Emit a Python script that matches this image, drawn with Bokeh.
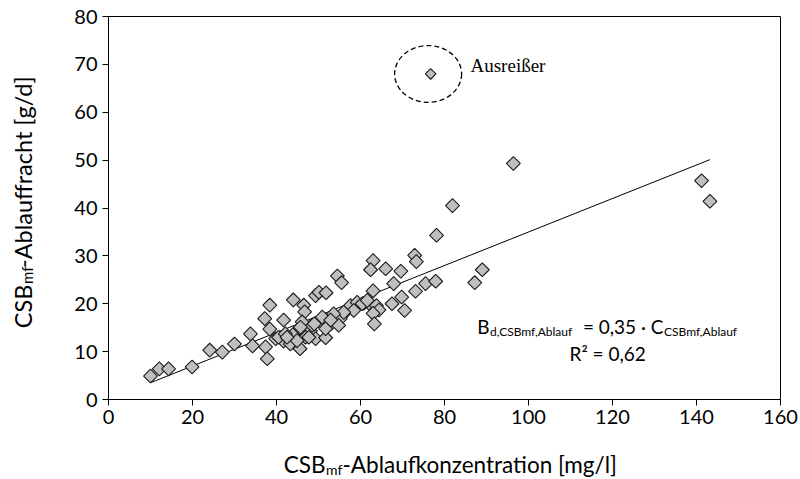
import numpy as np
from bokeh.plotting import figure
from bokeh.models import Range1d, FixedTicker, Label
from bokeh.layouts import column, row
from bokeh.embed import file_html
from bokeh.resources import INLINE

# ---- data ----
conc = [10.0, 12.1, 14.3, 19.9, 24.1, 27.1, 30.0, 33.8, 34.3, 37.2,
        38.4, 38.4, 37.4, 37.8, 41.7, 44.0, 46.5, 46.7, 49.3, 50.1,
        51.8, 54.5, 55.5, 39.8, 41.7, 43.3, 45.6, 44.1, 45.7, 48.1,
        46.9, 49.3, 51.7, 50.5, 53.3, 52.9, 55.2, 54.8, 56.8, 57.6,
        48.5, 46.1, 40.5, 42.1, 44.9, 51.7, 50.9, 59.2, 60.8, 58.4,
        63.0, 62.4, 66.0, 69.6, 67.9, 75.5, 77.9, 73.1, 63.0, 69.8,
        67.5, 70.5, 62.0, 63.8, 64.4, 63.0, 63.3, 60.4, 61.6, 56.0,
        72.9, 73.3, 78.1, 81.9, 96.4, 87.2, 89.0, 141.2, 143.2,
        47.7, 53.6, 49.0, 42.5, 45.7, 52.9]
load = [4.9, 6.4, 6.4, 6.8, 10.3, 9.9, 11.6, 13.7, 11.2, 16.9,
        19.7, 14.7, 11.0, 8.5, 16.6, 20.8, 19.7, 18.3, 21.7, 22.4,
        22.3, 25.8, 24.4, 12.7, 12.2, 11.6, 10.6, 13.7, 14.8, 14.3,
        13.0, 12.7, 12.9, 16.2, 17.1, 15.8, 16.9, 15.5, 18.6, 19.6,
        15.5, 16.2, 13.0, 13.7, 12.3, 14.8, 17.2, 20.3, 20.1, 18.6,
        29.0, 27.1, 27.3, 26.8, 24.2, 24.2, 24.7, 22.6, 22.7, 21.4,
        20.0, 18.6, 20.1, 19.6, 18.7, 18.0, 15.8, 20.0, 20.7, 18.2,
        30.1, 28.8, 34.3, 40.5, 49.3, 24.4, 27.1, 45.7, 41.4,
        13.0, 17.9, 15.8, 13.0, 15.1, 16.6]
outlier_x = [76.7]
outlier_y = [68.0]
trend_x = [10.0, 143.2]
trend_y = [3.5, 50.1]
x_ticks = [0, 20, 40, 60, 80, 100, 120, 140, 160]
y_ticks = [0, 10, 20, 30, 40, 50, 60, 70, 80]

FONT = "Lato"
W, H = 800, 479
LEFT_W = 44          # strip holding the y-axis title
BOT_H = 40           # strip holding the x-axis title
L, R, T, B = 108, 780, 16, 399   # plot frame in page pixels

def dx(px):
    return (px - L) * 160.0 / (R - L)
def dy(py):
    return (B - py) * 80.0 / (B - T)

p = figure(width=W - LEFT_W, height=H - BOT_H,
           x_range=Range1d(0, 160), y_range=Range1d(0, 80),
           output_backend="svg", toolbar_location=None,
           min_border_left=L - LEFT_W, min_border_right=W - R,
           min_border_top=T, min_border_bottom=(H - BOT_H) - B)
p.background_fill_color = "white"
p.border_fill_color = "white"
p.outline_line_color = "black"
p.outline_line_width = 1
p.xgrid.visible = False
p.ygrid.visible = False

for ax, ticks in ((p.xaxis, x_ticks), (p.yaxis, y_ticks)):
    ax.ticker = FixedTicker(ticks=ticks)
    ax.axis_line_color = "black"
    ax.major_tick_line_color = "black"
    ax.major_tick_in = 0
    ax.major_tick_out = 6
    ax.minor_tick_line_color = None
    ax.major_label_text_font = FONT
    ax.major_label_text_font_size = "20px"
    ax.major_label_text_color = "black"
p.xaxis.major_label_standoff = 4
p.yaxis.major_label_standoff = 5

# trend line
p.line(trend_x, trend_y, line_color="black", line_width=1)

# data points (diamonds)
p.scatter(conc, load, marker="square", size=9.8, angle=np.pi / 4,
          fill_color="#bfbfbf", line_color="#1a1a1a", line_width=1.1)
p.scatter(outlier_x, outlier_y, marker="square", size=7.5, angle=np.pi / 4,
          fill_color="#bfbfbf", line_color="#1a1a1a", line_width=1.1)

# ellipse around outlier
p.ellipse(x=[outlier_x[0] - 0.6], y=[outlier_y[0]], width=15.95, height=11.85,
          fill_color=None, line_color="black", line_width=1.3, line_dash="5 3")

def lab(fig, x, y, text, size, align="left", angle=0.0, font=FONT):
    fig.add_layout(Label(x=x, y=y, text=text, text_font=font, text_font_size=size,
                         text_align=align, text_baseline="alphabetic", angle=angle,
                         text_color="black"))

# outlier label
lab(p, dx(470), dy(65), "Ausreißer", "19px", font="Liberation Serif")

# regression equation
lab(p, dx(489), dy(326), "B", "19px", align="right")
lab(p, dx(489.5), dy(331), "d,CSBmf,Ablauf", "12px")
lab(p, dx(663), dy(326), "= 0,35 · C", "19px", align="right")
lab(p, dx(663.5), dy(331), "CSBmf,Ablauf", "12px")
lab(p, dx(569), dy(353), "R² = 0,62", "19px")

# ---- strips for axis titles (no axes; units = pixels) ----
def strip(w, h, yr):
    f = figure(width=w, height=h, x_range=Range1d(0, w), y_range=yr,
               x_axis_type=None, y_axis_type=None, output_backend="svg",
               toolbar_location=None, min_border=0)
    f.outline_line_color = None
    f.background_fill_color = "white"
    f.border_fill_color = "white"
    f.grid.visible = False
    return f

# y axis title (rotated). In a row the strip's frame is aligned with the
# main frame (page rows T..B), so a flipped range makes data y == page y.
pl = strip(LEFT_W, H - BOT_H, Range1d(start=B, end=T))
a = np.pi / 2
lab(pl, 22, 284, "CSB", "23.5px", align="right", angle=a)
lab(pl, 26.5, 283.5, "mf", "15px", angle=a)
lab(pl, 22, 267.5, "-Ablauffracht [g/d]", "23.5px", angle=a)

# x axis title; page y -> strip y = H - page_y
pb = strip(W, BOT_H, Range1d(0, BOT_H))
lab(pb, 325, H - 464, "CSB", "22.5px", align="right")
lab(pb, 325.5, H - 468.5, "mf", "14px")
lab(pb, 342, H - 464, "-Ablaufkonzentration [mg/l]", "22.5px")

layout = column(row(pl, p, spacing=0), pb, spacing=0)
open("out.html", "w").write(file_html(layout, INLINE))
